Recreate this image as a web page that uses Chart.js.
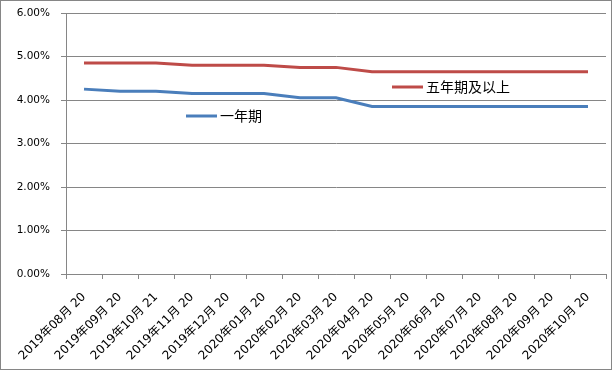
<!DOCTYPE html>
<html>
<head>
<meta charset="utf-8">
<script src="https://cdn.jsdelivr.net/npm/chart.js@4"></script>
<style>
html,body{margin:0;padding:0;background:#fff;}
#wrap{width:612px;height:370px;position:relative;}
</style>
</head>
<body>
<div id="wrap"><canvas id="c" width="612" height="370"></canvas></div>
<script>
const categories = ["2019年08月 20","2019年09月 20","2019年10月 21","2019年11月 20","2019年12月 20","2020年01月 20","2020年02月 20","2020年03月 20","2020年04月 20","2020年05月 20","2020年06月 20","2020年07月 20","2020年08月 20","2020年09月 20","2020年10月 20"];
const oneYear = [4.25,4.20,4.20,4.15,4.15,4.15,4.05,4.05,3.85,3.85,3.85,3.85,3.85,3.85,3.85];
const fiveYear = [4.85,4.85,4.85,4.80,4.80,4.80,4.75,4.75,4.65,4.65,4.65,4.65,4.65,4.65,4.65];
const seriesNames = ["一年期","五年期及以上"];
const yTicks = [0,1,2,3,4,5,6];

const BLUE = '#4A7EBB', RED = '#BE4B48', GRID = '#868686';

const frame = {
  id:'frame',
  beforeDraw(chart){
    const ctx = chart.ctx;
    ctx.save();
    ctx.fillStyle='#fff';
    ctx.fillRect(0,0,chart.width,chart.height);
    ctx.restore();
  },
  afterDraw(chart){
    const ctx = chart.ctx;
    ctx.save();
    ctx.strokeStyle=GRID; ctx.lineWidth=1;
    ctx.strokeRect(0.5,0.5,chart.width-1,chart.height-1);
    // custom legend entries placed inside plot
    const pos = [{x:186,y:116},{x:392,y:87}];
    chart.data.datasets.forEach((ds,i)=>{
      const p = pos[i];
      ctx.strokeStyle = ds.borderColor; ctx.lineWidth = 3; ctx.lineCap='butt';
      ctx.beginPath(); ctx.moveTo(p.x,p.y); ctx.lineTo(p.x+31,p.y); ctx.stroke();
      ctx.fillStyle='#000';
      ctx.font='14px "Noto Sans CJK SC"';
      ctx.textBaseline='middle'; ctx.textAlign='left';
      ctx.fillText(ds.label,p.x+34,p.y);
    });
    ctx.restore();
  }
};

new Chart(document.getElementById('c'),{
  type:'line',
  data:{
    labels:categories,
    datasets:[
      {label:seriesNames[0],data:oneYear,borderColor:BLUE,backgroundColor:BLUE,borderWidth:3,pointRadius:0,tension:0,fill:false},
      {label:seriesNames[1],data:fiveYear,borderColor:RED,backgroundColor:RED,borderWidth:3,pointRadius:0,tension:0,fill:false}
    ]
  },
  options:{
    responsive:false,
    animation:false,
    devicePixelRatio:1,
    layout:{padding:{left:0,right:6,top:13,bottom:0}},
    plugins:{legend:{display:false},tooltip:{enabled:false}},
    scales:{
      x:{
        offset:true,
        grid:{display:true,offset:true,drawOnChartArea:false,drawTicks:true,tickLength:5,color:GRID},
        border:{display:true,color:GRID,width:1},
        ticks:{minRotation:45,maxRotation:45,autoSkip:false,color:'#000',padding:11,
          font:{family:'"DejaVu Sans","Noto Sans CJK SC"',size:12}},
        afterFit(s){ s.height = 96; }
      },
      y:{
        min:yTicks[0],max:yTicks[yTicks.length-1],
        afterBuildTicks(s){ s.ticks = yTicks.map(v=>({value:v})); },
        grid:{color:GRID,tickLength:5,drawTicks:true},
        border:{display:true,color:GRID,width:1},
        ticks:{color:'#000',padding:11,font:{family:'"DejaVu Sans"',size:10.5},
          callback:(v)=>Number(v).toFixed(2)+'%'},
        afterFit(s){ s.width = 66; s.paddingTop = 0; s.paddingBottom = 0; }
      }
    }
  },
  plugins:[frame]
});
</script>
</body>
</html>
